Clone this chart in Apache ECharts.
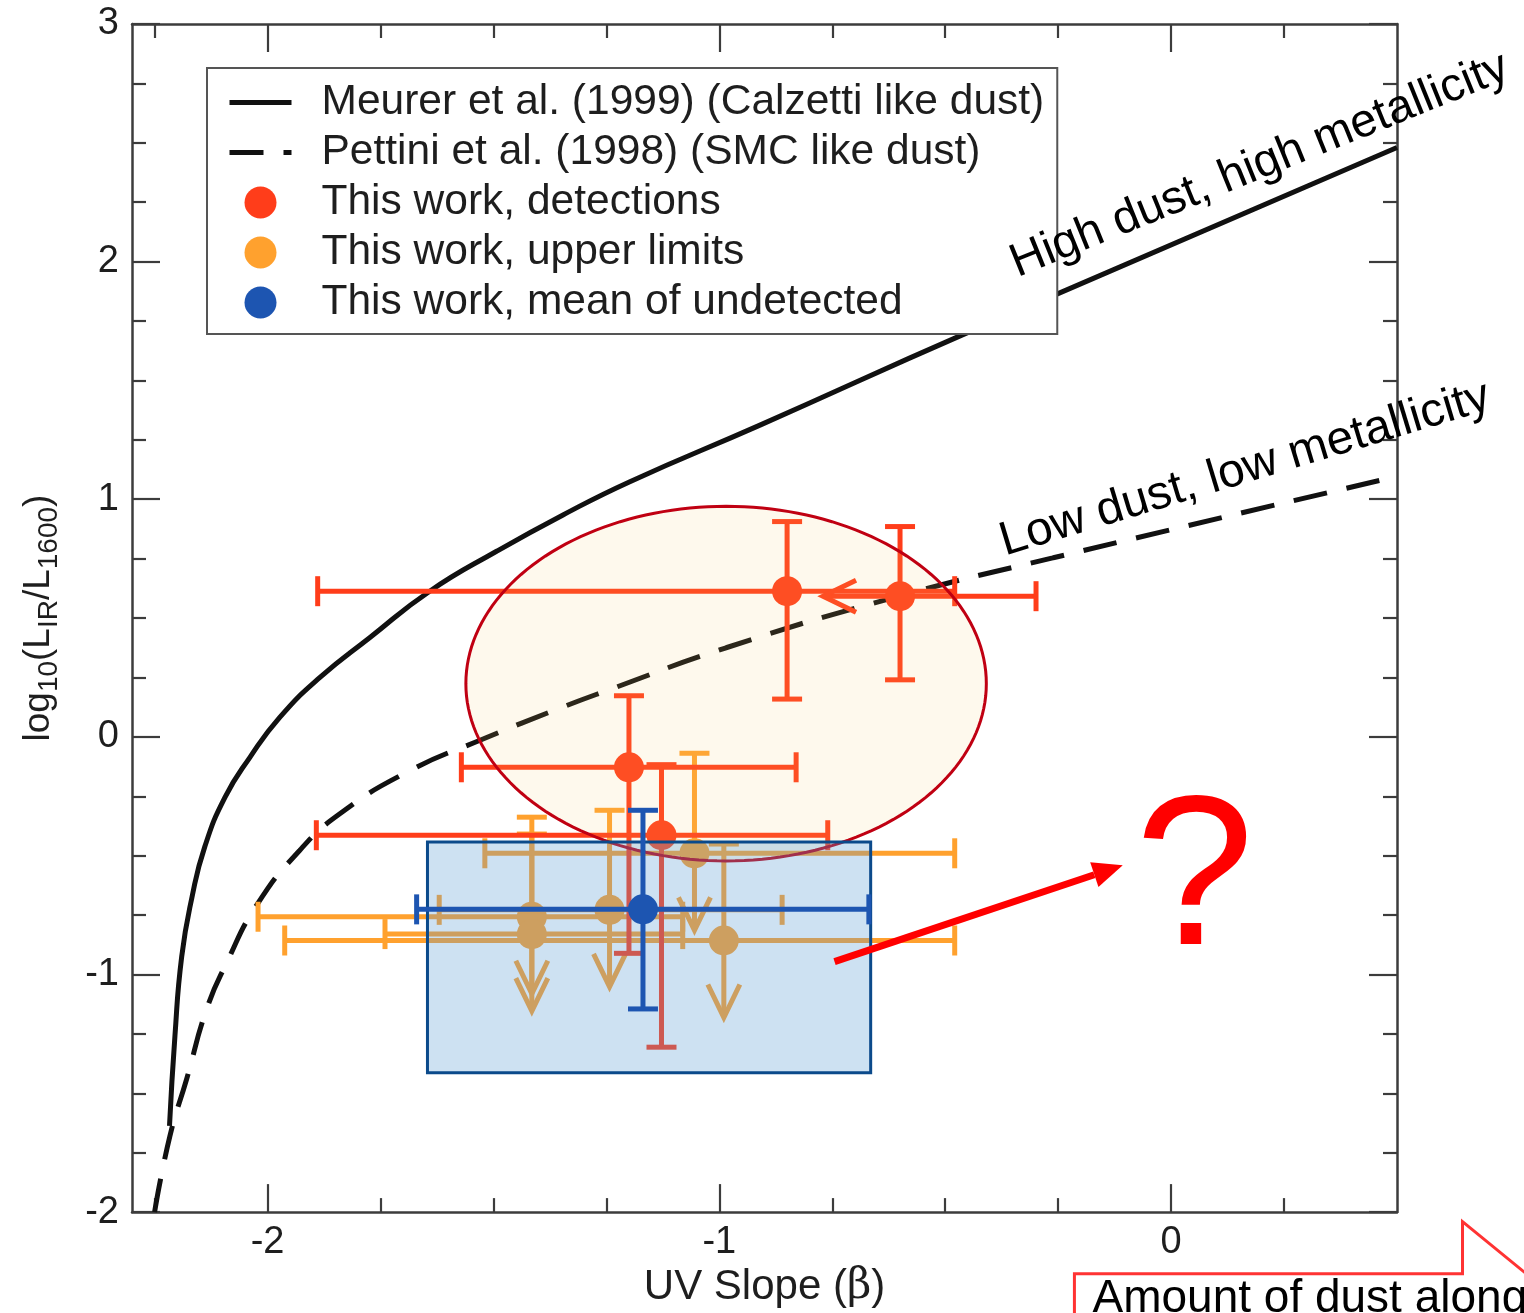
<!DOCTYPE html>
<html><head><meta charset="utf-8">
<script src="https://cdn.jsdelivr.net/npm/echarts@6/dist/echarts.min.js"></script>
<style>html,body{margin:0;padding:0;background:#fff}#c{width:1524px;height:1313px}</style>
</head><body><div id="c"></div>
<script>
// ---------- data ----------
const meurerBeta = [-2.217, -2.205, -2.190, -2.167, -2.139, -2.094, -2.039, -1.973, -1.884, -1.774, -1.641, -1.493, -1.346, -1.198, -0.910, -0.457, 0.500];
const meurerLog  = [-1.637, -1.260, -0.925, -0.673, -0.463, -0.254, -0.086, 0.082, 0.250, 0.417, 0.613, 0.781, 0.934, 1.074, 1.312, 1.696, 2.480];

const pettiniBeta = [-2.250, -2.216, -2.179, -2.135, -2.091, -2.024, -1.929, -1.840, -1.692, -1.523, -1.354, -1.250, -0.985, -0.616, -0.262, 0.500];
const pettiniLog  = [-2.00, -1.679, -1.440, -1.147, -0.953, -0.708, -0.478, -0.324, -0.149, -0.009, 0.120, 0.194, 0.375, 0.585, 0.753, 1.096];

// detections
const detBeta      = [-0.850, -0.600, -1.200, -1.128];
const detLog       = [0.613, 0.592, -0.128, -0.414];
const detBetaLo    = [-1.889, null, -1.571, -1.892];   // null = limit arrow
const detBetaHi    = [-0.479, -0.299, -0.830, -0.760];
const detLogLo     = [0.159, 0.240, -0.911, -1.306];
const detLogHi     = [0.906, 0.885, 0.173, -0.117];

// upper limits
const ulBeta   = [-1.415, -1.415, -1.243, -1.055, -0.990];
const ulLog    = [-0.757, -0.830, -0.728, -0.490, -0.857];
const ulBetaLo = [-2.021, -1.740, -1.620, -1.519, -1.962];
const ulBetaHi = [-1.081, -1.081, -0.861, -0.479, -0.479];
const ulLogHi  = [-0.338, -0.409, -0.309, -0.069, -0.451];

// mean of undetected
const meanBeta   = [-1.169];
const meanLog    = [-0.726];
const meanBetaLo = [-1.670];
const meanBetaHi = [-0.669];
const meanLogLo  = [-1.145];
const meanLogHi  = [-0.309];

// tick values
const xMajorTicks = [-2, -1, 0];
const xMinorTicks = [-2.25, -1.75, -1.5, -1.25, -0.75, -0.5, -0.25, 0.25];

// annotation shapes (data coordinates)
const ellipseCenter = [-0.985, 0.224];
const ellipseRadius = [0.576, 0.746];
const boxBeta = [-1.646, -0.665];
const boxLog  = [-1.414, -0.442];
const arrowFrom = [-0.745, -0.946];
const arrowTo   = [-0.107, -0.540];
const calloutBeta = [-0.214, -0.214, 0.645, 0.645, 0.804];
const calloutLog  = [-2.434, -2.259, -2.259, -2.040, -2.287];

const annoText = ['High dust, high metallicity', 'Low dust, low metallicity', '?', 'Amount of dust along'];
const annoBeta = [0.196, 0.164, 0.0516, -0.174];
const annoLog  = [2.405, 1.126, -0.623, -2.270];

// ---------- styles ----------
const FONT = '"Liberation Sans", Arial, Helvetica, sans-serif';
const RED = '#ff3d1a', ORANGE = '#ffa12e', BLUE = '#1d55b1';
const AXC = '#3c3c3c';
const LW = 5, CAP = 15, ARROW_LEN = 77, CHEV_W = 16, CHEV_H = 33;
const annoStyle = [
  {size: 47, rot: 22, color: '#000', align: 'center', va: 'middle'},
  {size: 47.5, rot: 16.8, color: '#000', align: 'center', va: 'middle'},
  {size: 214, rot: 0, color: '#ff0000', align: 'center', va: 'middle'},
  {size: 46, rot: 0, color: '#000', align: 'left', va: 'top'}
];

function seg(x1, y1, x2, y2, color, lw) {
  return {type: 'line', silent: true, shape: {x1, y1, x2, y2}, style: {stroke: color, lineWidth: lw || LW, lineCap: 'butt'}};
}

function crossBars(color) {
  return function (params, api) {
    const b = api.value(0), v = api.value(1);
    const c = api.coord([b, v]);
    const lim = api.value(6) === 1;
    const l = api.coord([api.value(2), v]);
    const r = api.coord([api.value(3), v]);
    const lo = api.coord([b, api.value(4)]);
    const hi = api.coord([b, api.value(5)]);
    const kids = [];
    const xl = lim ? c[0] - ARROW_LEN : l[0];
    kids.push(seg(xl, c[1], r[0], c[1], color));
    kids.push(seg(r[0], c[1] - CAP, r[0], c[1] + CAP, color));
    if (lim) {
      kids.push({type: 'polyline', silent: true, shape: {points: [[xl + CHEV_H, c[1] - CHEV_W], [xl, c[1]], [xl + CHEV_H, c[1] + CHEV_W]]},
        style: {stroke: color, lineWidth: LW, fill: null, lineJoin: 'miter'}});
    } else {
      kids.push(seg(l[0], c[1] - CAP, l[0], c[1] + CAP, color));
    }
    kids.push(seg(c[0], hi[1], c[0], lo[1], color));
    kids.push(seg(c[0] - CAP, hi[1], c[0] + CAP, hi[1], color));
    kids.push(seg(c[0] - CAP, lo[1], c[0] + CAP, lo[1], color));
    return {type: 'group', children: kids};
  };
}

function limitBars(color) {
  return function (params, api) {
    const b = api.value(0), v = api.value(1);
    const c = api.coord([b, v]);
    const l = api.coord([api.value(2), v]);
    const r = api.coord([api.value(3), v]);
    const hi = api.coord([b, api.value(4)]);
    const tip = c[1] + ARROW_LEN;
    const kids = [
      seg(l[0], c[1], r[0], c[1], color),
      seg(l[0], c[1] - CAP, l[0], c[1] + CAP, color),
      seg(r[0], c[1] - CAP, r[0], c[1] + CAP, color),
      seg(c[0], hi[1], c[0], tip - 3, color),
      seg(c[0] - CAP, hi[1], c[0] + CAP, hi[1], color),
      {type: 'polyline', silent: true, shape: {points: [[c[0] - CHEV_W, tip - CHEV_H], [c[0], tip], [c[0] + CHEV_W, tip - CHEV_H]]},
        style: {stroke: color, lineWidth: LW, fill: null, lineJoin: 'miter'}}
    ];
    return {type: 'group', children: kids};
  };
}

const detRows = detBeta.map((b, i) => [b, detLog[i], detBetaLo[i] === null ? b : detBetaLo[i], detBetaHi[i], detLogLo[i], detLogHi[i], detBetaLo[i] === null ? 1 : 0]);
const ulRows = ulBeta.map((b, i) => [b, ulLog[i], ulBetaLo[i], ulBetaHi[i], ulLogHi[i]]);
const meanRows = meanBeta.map((b, i) => [b, meanLog[i], meanBetaLo[i], meanBetaHi[i], meanLogLo[i], meanLogHi[i], 0]);

const tickLine = {color: AXC, width: 2.2};
function xAxisDef(pos, ticks, len, main) {
  return {
    type: 'value', min: -2.3, max: 0.5, position: pos, gridIndex: 0,
    axisLine: {show: !!main, onZero: false, lineStyle: {color: AXC, width: 2.5}},
    axisTick: {show: true, inside: true, length: len, customValues: ticks, lineStyle: tickLine},
    axisLabel: (main === 'label') ? {show: true, customValues: xMajorTicks, fontSize: 38, color: '#1e1e1e', margin: 11, fontFamily: FONT} : {show: false},
    splitLine: {show: false}
  };
}
const xAxes = [
  xAxisDef('bottom', xMajorTicks, 28, 'label'),
  xAxisDef('bottom', xMinorTicks, 14, false),
  xAxisDef('top', xMajorTicks, 28, true),
  xAxisDef('top', xMinorTicks, 14, false)
];
xAxes[0].name = 'UV Slope ({b|β})';
xAxes[0].nameLocation = 'middle';
xAxes[0].nameGap = 50;
xAxes[0].nameTextStyle = {fontSize: 42, color: '#1e1e1e', fontFamily: FONT, rich: {b: {fontSize: 42, fontFamily: '"DejaVu Serif", "Liberation Serif", serif'}}};

function yAxisDef(pos, label) {
  return {
    type: 'value', min: -2, max: 3, interval: 1, position: pos,
    axisLine: {show: true, onZero: false, lineStyle: {color: AXC, width: 2.5}},
    axisTick: {show: true, inside: true, length: 28, lineStyle: tickLine},
    minorTick: {show: true, splitNumber: 4, length: 14, lineStyle: tickLine},
    axisLabel: label ? {show: true, fontSize: 38, color: '#1e1e1e', margin: 13, fontFamily: FONT} : {show: false},
    splitLine: {show: false}, minorSplitLine: {show: false}
  };
}
const yAxes = [yAxisDef('left', true), yAxisDef('right', false)];
yAxes[0].name = 'log{s|10}(L{s|IR}/L{s|1600})';
yAxes[0].nameLocation = 'middle';
yAxes[0].nameRotate = 90;
yAxes[0].nameGap = 69;
yAxes[0].nameTextStyle = {fontSize: 37, lineHeight: 48, color: '#1e1e1e', fontFamily: FONT,
  rich: {s: {fontSize: 28, lineHeight: 27, verticalAlign: 'bottom', fontFamily: FONT, color: '#1e1e1e'}}};

const legendNames = ['Meurer et al. (1999) (Calzetti like dust)', 'Pettini et al. (1998) (SMC like dust)',
  'This work, detections', 'This work, upper limits', 'This work, mean of undetected'];

const chart = echarts.init(document.getElementById('c'), null, {renderer: 'canvas'});
chart.setOption({
  animation: false,
  backgroundColor: '#fff',
  textStyle: {fontFamily: FONT},
  grid: {left: 132, top: 24, width: 1265, height: 1192, containLabel: false},
  xAxis: xAxes,
  yAxis: yAxes,
  legend: {
    left: 207, top: 68, orient: 'vertical', z: 4,
    padding: [13, 13, 10, 20], itemGap: 7, itemWidth: 62, itemHeight: 32,
    backgroundColor: '#fff', borderColor: '#555', borderWidth: 2, borderRadius: 0,
    formatter: n => '{p|}' + n,
    textStyle: {fontSize: 42.5, lineHeight: 41, color: '#1e1e1e', fontFamily: FONT, rich: {p: {width: 25, lineHeight: 41}}},
    data: [
      {name: legendNames[0], itemStyle: {opacity: 0}, lineStyle: {width: 5, color: '#111', type: 'solid', opacity: 1}},
      {name: legendNames[1], itemStyle: {opacity: 0}, lineStyle: {width: 5, color: '#111', type: [34, 20], opacity: 1}},
      {name: legendNames[2]}, {name: legendNames[3]}, {name: legendNames[4]}
    ]
  },
  series: [
    {name: legendNames[0], type: 'line', z: 2, smooth: 0.5, symbol: 'none', showSymbol: false, clip: true,
      color: '#111', lineStyle: {color: '#111', width: 5},
      data: meurerBeta.map((b, i) => [b, meurerLog[i]])},
    {name: legendNames[1], type: 'line', z: 2, smooth: 0.5, symbol: 'none', showSymbol: false, clip: true,
      color: '#111', lineStyle: {color: '#111', width: 5, type: [34, 20]},
      data: pettiniBeta.map((b, i) => [b, pettiniLog[i]])},
    {type: 'custom', z: 3, renderItem: limitBars(ORANGE), encode: {x: 0, y: 1}, data: ulRows, silent: true},
    {type: 'custom', z: 3, renderItem: crossBars(RED), encode: {x: 0, y: 1}, data: detRows, silent: true},
    {name: legendNames[3], type: 'scatter', z: 4, symbol: 'circle', symbolSize: 30, color: ORANGE,
      itemStyle: {color: ORANGE, opacity: 1}, data: ulBeta.map((b, i) => [b, ulLog[i]])},
    {name: legendNames[2], type: 'scatter', z: 4, symbol: 'circle', symbolSize: 30, color: RED,
      itemStyle: {color: RED, opacity: 1}, data: detBeta.map((b, i) => [b, detLog[i]])},
    {type: 'custom', z: 5, silent: true, encode: {x: 0, y: 1},
      data: [[ellipseCenter[0], ellipseCenter[1], ellipseRadius[0], ellipseRadius[1]]],
      renderItem: function (params, api) {
        const c = api.coord([api.value(0), api.value(1)]);
        const px = api.coord([api.value(0) + api.value(2), api.value(1)]);
        const py = api.coord([api.value(0), api.value(1) + api.value(3)]);
        const rx = Math.abs(px[0] - c[0]), ry = Math.abs(py[1] - c[1]);
        const pts = [];
        for (let k = 0; k < 180; k++) { const t = k / 180 * Math.PI * 2; pts.push([c[0] + rx * Math.cos(t), c[1] + ry * Math.sin(t)]); }
        return {type: 'polygon', shape: {points: pts}, style: {fill: 'rgba(245,205,110,0.12)', stroke: '#c00012', lineWidth: 3}};
      }},
    {type: 'custom', z: 6, silent: true, encode: {x: [0, 1], y: [2, 3]},
      data: [[boxBeta[0], boxBeta[1], boxLog[0], boxLog[1]]],
      renderItem: function (params, api) {
        const p1 = api.coord([api.value(0), api.value(3)]);
        const p2 = api.coord([api.value(1), api.value(2)]);
        return {type: 'rect', shape: {x: p1[0], y: p1[1], width: p2[0] - p1[0], height: p2[1] - p1[1]},
          style: {fill: 'rgba(91,155,213,0.30)', stroke: '#0b4a8b', lineWidth: 3}};
      }},
    {type: 'custom', z: 7, renderItem: crossBars(BLUE), encode: {x: 0, y: 1}, data: meanRows, silent: true},
    {name: legendNames[4], type: 'scatter', z: 8, symbol: 'circle', symbolSize: 30, color: BLUE,
      itemStyle: {color: BLUE, opacity: 1}, data: meanBeta.map((b, i) => [b, meanLog[i]])},
    {type: 'custom', z: 9, silent: true, encode: {x: [0, 2], y: [1, 3]},
      data: [[arrowFrom[0], arrowFrom[1], arrowTo[0], arrowTo[1]]],
      renderItem: function (params, api) {
        const a = api.coord([api.value(0), api.value(1)]);
        const b = api.coord([api.value(2), api.value(3)]);
        const ang = Math.atan2(b[1] - a[1], b[0] - a[0]);
        const L = 30, W = 13;
        const bx = b[0] - L * Math.cos(ang), by = b[1] - L * Math.sin(ang);
        const nx = -Math.sin(ang), ny = Math.cos(ang);
        return {type: 'group', children: [
          {type: 'line', shape: {x1: a[0], y1: a[1], x2: bx, y2: by}, style: {stroke: '#ff0000', lineWidth: 7}},
          {type: 'polygon', shape: {points: [[b[0], b[1]], [bx + nx * W, by + ny * W], [bx - nx * W, by - ny * W]]}, style: {fill: '#ff0000'}}
        ]};
      }},
    {type: 'custom', z: 9, silent: true, encode: {x: 0, y: 1},
      data: [[calloutBeta[0], calloutLog[0]]],
      renderItem: function (params, api) {
        const pts = calloutBeta.map((b, i) => api.coord([b, calloutLog[i]]));
        return {type: 'polyline', shape: {points: pts}, style: {stroke: '#ff3333', lineWidth: 3, fill: null}};
      }},
    {type: 'custom', z: 10, silent: true, encode: {x: 0, y: 1},
      data: annoBeta.map((b, i) => [b, annoLog[i]]),
      renderItem: function (params, api) {
        const i = params.dataIndex, s = annoStyle[i];
        const p = api.coord([api.value(0), api.value(1)]);
        return {type: 'text', x: p[0], y: p[1], rotation: s.rot * Math.PI / 180,
          style: {text: annoText[i], fontSize: s.size, fontFamily: FONT, fill: s.color, align: s.align, verticalAlign: s.va}};
      }}
  ]
});
</script>
</body></html>
